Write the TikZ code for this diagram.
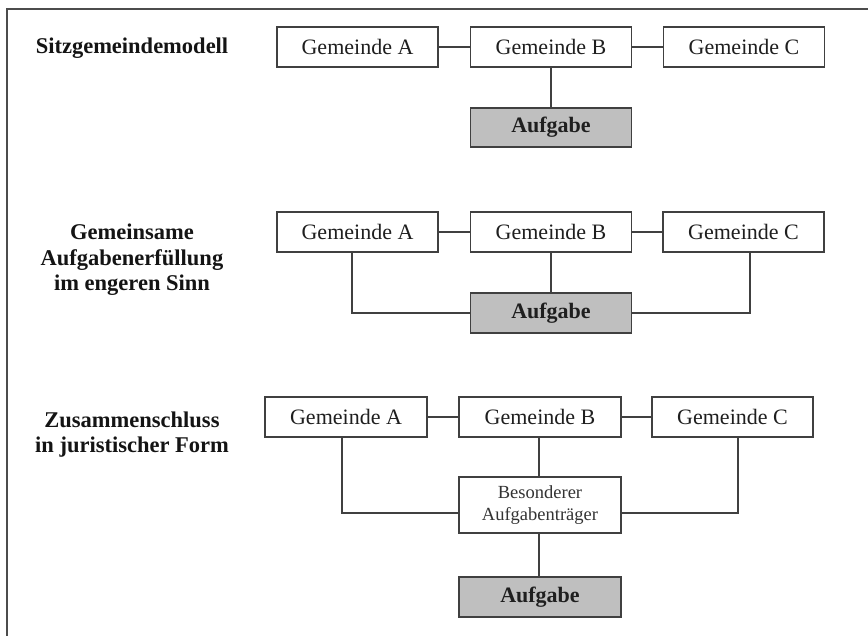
\documentclass[tikz,border=0pt]{standalone}
\usepackage{fontspec}
\setmainfont{Liberation Serif}
\begin{document}
\begin{tikzpicture}[x=1pt,y=-1pt,
  linecol/.style={draw=black!75, line width=1.6pt},
  gbox/.style={rectangle, linecol, fill=white, minimum width=161pt, minimum height=40pt, inner sep=0pt, text=black!88, font=\fontsize{22}{24}\selectfont},
  abox/.style={gbox, fill=black!25, font=\fontsize{22}{24}\selectfont\bfseries},
  tbox/.style={rectangle, linecol, fill=white, minimum width=162pt, minimum height=56pt, inner sep=0pt, align=center, text=black!80, font=\fontsize{18.5}{22}\selectfont},
  title/.style={align=center, text=black!92, font=\fontsize{22.5}{25.5}\selectfont\bfseries},
  conn/.style={linecol}]
\useasboundingbox (0,0) rectangle (868,636);
\fill[white] (0,0) rectangle (868,636);
% frame
\draw[draw=black!70, line width=1.6pt] (7,640) -- (7,9) -- (872,9);

% titles
\node[title] (t1) at (132,48) {Sitzgemeindemodell};
\node[title] (t2) at (132,260) {Gemeinsame\\Aufgabenerfüllung\\im engeren Sinn};
\node[title] (t3) at (132,434.5) {Zusammenschluss\\in juristischer Form};

% row 1
\node[gbox] (a1) at (357.5,47) {Gemeinde A};
\node[gbox] (b1) at (551,47) {Gemeinde B};
\node[gbox] (c1) at (744,47) {Gemeinde C};
\node[abox, minimum height=39pt] (g1) at (551,127.5) {Aufgabe};
\draw[conn] (a1.east) -- (b1.west);
\draw[conn] (b1.east) -- (c1.west);
\draw[conn] (b1.south) -- (g1.north);

% row 2
\node[gbox] (a2) at (357.5,232) {Gemeinde A};
\node[gbox] (b2) at (551,232) {Gemeinde B};
\node[gbox] (c2) at (743.5,232) {Gemeinde C};
\node[abox] (g2) at (551,313) {Aufgabe};
\draw[conn] (a2.east) -- (b2.west);
\draw[conn] (b2.east) -- (c2.west);
\draw[conn] (b2.south) -- (g2.north);
\draw[conn] ([xshift=-5.5pt]a2.south) |- (g2.west);
\draw[conn] ([xshift=6.5pt]c2.south) |- (g2.east);

% row 3
\node[gbox, minimum width=162pt] (a3) at (346,417) {Gemeinde A};
\node[gbox, minimum width=162pt] (b3) at (540,417) {Gemeinde B};
\node[gbox] (c3) at (732.5,417) {Gemeinde C};
\node[tbox] (s3) at (540,505) {Besonderer\\Aufgabenträger};
\node[abox, minimum width=162pt] (g3) at (540,597) {Aufgabe};
\draw[conn] (a3.east) -- (b3.west);
\draw[conn] (b3.east) -- (c3.west);
\draw[conn] ([xshift=-1pt]b3.south) -- ([xshift=-1pt]s3.north);
\draw[conn] ([xshift=-4pt]a3.south) |- ([yshift=-8pt]s3.west);
\draw[conn] ([xshift=5.5pt]c3.south) |- ([yshift=-8pt]s3.east);
\draw[conn] ([xshift=-1pt]s3.south) -- ([xshift=-1pt]g3.north);
\end{tikzpicture}
\end{document}
